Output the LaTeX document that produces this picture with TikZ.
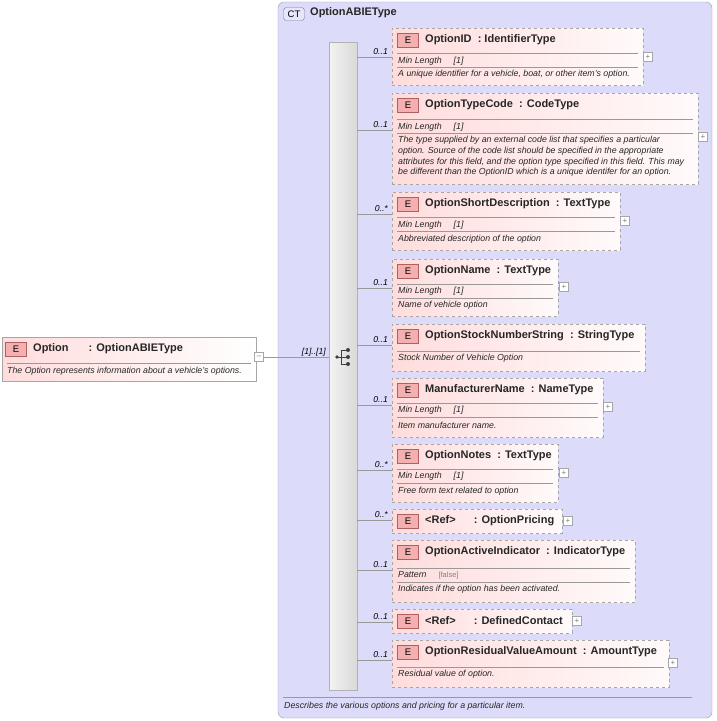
\documentclass[tikz,border=0pt]{standalone}
\usepackage{fontspec}
\setmainfont{Liberation Sans}
\usetikzlibrary{calc}
\definecolor{ctfill}{HTML}{DCDCFA}
\definecolor{ctline}{HTML}{9A9AB0}
\definecolor{epink}{HTML}{FFDCDC}
\definecolor{ebadge}{HTML}{F4B0B0}
\definecolor{ebord}{HTML}{B06060}
\begin{document}
\begin{tikzpicture}[x=1pt,y=-1pt,
  elbox/.style={draw=gray!70, dashed, left color=epink, right color=red!2, shading angle=90, inner sep=0, outer sep=0},
  ebadge/.style={draw=ebord, fill=ebadge, font=\fontsize{9.5}{9.5}\selectfont, minimum width=21pt, minimum height=14pt, inner sep=0},
  ttl/.style={font=\bfseries\fontsize{11}{11}\selectfont, inner sep=0, text=black!85},
  sm/.style={font=\itshape\fontsize{8.8}{10.8}\selectfont, inner sep=0, text=black!85},
  mult/.style={font=\itshape\fontsize{8.6}{9}\selectfont, inner sep=0, anchor=south east},
  sep/.style={draw=gray!80, line width=0.5pt},
  conn/.style={draw=gray!80, line width=0.6pt},
  plus/.style={draw=gray!70, fill=white, minimum size=9pt, inner sep=0, font=\fontsize{8}{8}\selectfont, text=gray}]
\useasboundingbox (0,0) rectangle (716,721);
\newcommand\ebox[7]{%
  \node[elbox, minimum width={(#4-#2)*1pt}, minimum height={(#5-#3)*1pt}, anchor=north west] (#1) at (#2,#3) {};
  \node[ebadge] (#1e) at (#2+16,#3+12) {E};
  \node[ttl, anchor=west] (#1t) at (#2+33,#3+11.5) {#6};
  \coordinate (#1c) at (#2,#7);
}
\newcommand\sepl[3]{\draw[sep] (#1+5,#3) -- (#2-5,#3);}
% CT container
\draw[ctline, fill=ctfill, rounded corners=6pt] (278,2) rectangle (712,718);
\node[draw=ctline!80!black, fill=ctfill!70!white, rounded corners=3pt, font=\fontsize{9.5}{9.5}\selectfont, minimum width=21pt, minimum height=13pt, inner sep=0] (ct) at (294,14) {CT};
\node[ttl, anchor=west] (ctt) at (310,13) {OptionABIEType};
\draw[sep] (283,697) -- (692,697);
\node[sm, anchor=west] (ctd) at (284,706) {Describes the various options and pricing for a particular item.};
% sequence bar
\node[draw=gray!60, left color=gray!10, right color=gray!30, shading angle=90, minimum width=28pt, minimum height=648pt, anchor=north west, inner sep=0] (seq) at (329,42) {};
% sequence icon
\fill[black!75] (337,357) circle (1.8);
\draw[black!75, line width=0.8pt] (337,357) -- (341,357) (341,350) -- (341,364) (341,350) -- (348,350) (341,357) -- (348,357) (341,364) -- (348,364);
\fill[black!75] (348,350) circle (2) (348,357) circle (2) (348,364) circle (2);
% Option element
\node[draw=gray!70, left color=epink, right color=white, shading angle=90, minimum width=254pt, minimum height=44pt, anchor=north west, inner sep=0] (opt) at (2,337) {};
\node[ebadge] (opte) at (16,349) {E};
\node[ttl, anchor=west] (optt) at (33,349) {Option\hspace{20pt}: OptionABIEType};
\sepl{2}{256}{363}
\node[sm, anchor=west] (optd) at (7,371) {The Option represents information about a vehicle's options.};
\node[plus] (optm) at (259,357) {--};
\draw[conn] (optm) -- (seq.west |- optm);
\node[mult] (m0) at (326,356) {[1]..[1]};
% children
\ebox{a}{392}{28}{643}{85}{OptionID\ \ : IdentifierType}{57}
\sepl{392}{643}{53}\sepl{392}{643}{67}
\node[sm, anchor=west] at (398,61) {Min Length\hspace{12pt}[1]};
\node[sm, anchor=west] at (398,74) {A unique identifier for a vehicle, boat, or other item's option.};
\node[plus] (ap) at (648,57) {+};
\ebox{b}{392}{93}{698}{184}{OptionTypeCode\ \ : CodeType}{130}
\sepl{392}{698}{119}\sepl{392}{698}{133}
\node[sm, anchor=west] at (398,127) {Min Length\hspace{12pt}[1]};
\node[sm, anchor=north west, align=left] at (398,136) {The type supplied by an external code list that specifies a particular\\option. Source of the code list should be specified in the appropriate\\attributes for this field, and the option type specified in this field. This may\\be different than the OptionID which is a unique identifer for an option.};
\node[plus] (bp) at (703,137) {+};
\ebox{c}{392}{192}{620}{250}{OptionShortDescription\ \ : TextType}{214}
\sepl{392}{620}{217}\sepl{392}{620}{231}
\node[sm, anchor=west] at (398,225) {Min Length\hspace{12pt}[1]};
\node[sm, anchor=west] at (398,239) {Abbreviated description of the option};
\node[plus] (cp) at (625,221) {+};
\ebox{d}{392}{259}{558}{316}{OptionName\ \ : TextType}{288}
\sepl{392}{558}{284}\sepl{392}{558}{298}
\node[sm, anchor=west] at (398,291) {Min Length\hspace{12pt}[1]};
\node[sm, anchor=west] at (398,305) {Name of vehicle option};
\node[plus] (dp) at (564,287) {+};
\ebox{e}{392}{324}{645}{371}{OptionStockNumberString\ \ : StringType}{345}
\sepl{392}{645}{351}
\node[sm, anchor=west] at (398,358) {Stock Number of Vehicle Option};
\ebox{f}{392}{378}{603}{437}{ManufacturerName\ \ : NameType}{405}
\sepl{392}{603}{403}\sepl{392}{603}{417}
\node[sm, anchor=west] at (398,410) {Min Length\hspace{12pt}[1]};
\node[sm, anchor=west] at (398,425) {Item manufacturer name.};
\node[plus] (fp) at (608,407) {+};
\ebox{g}{392}{444}{558}{502}{OptionNotes\ \ : TextType}{470}
\sepl{392}{558}{469}\sepl{392}{558}{483}
\node[sm, anchor=west] at (398,476) {Min Length\hspace{12pt}[1]};
\node[sm, anchor=west] at (398,491) {Free form text related to option};
\node[plus] (gp) at (564,473) {+};
\ebox{h}{392}{509}{562}{533}{<Ref>\hspace{18pt}: OptionPricing}{520}
\node[plus] (hp) at (568,521) {+};
\ebox{i}{392}{540}{635}{602}{OptionActiveIndicator\ \ : IndicatorType}{570}
\sepl{392}{635}{568}\sepl{392}{635}{582}
\node[sm, anchor=west] at (398,575) {Pattern\hspace{12pt}{\upshape\fontsize{7.5}{8}\selectfont\color{gray}[false]}};
\node[sm, anchor=west] at (398,589) {Indicates if the option has been activated.};
\ebox{j}{392}{609}{572}{633}{<Ref>\hspace{18pt}: DefinedContact}{622}
\node[plus] (jp) at (577,621) {+};
\ebox{k}{392}{640}{669}{687}{OptionResidualValueAmount\ \ : AmountType}{660}
\sepl{392}{669}{667}
\node[sm, anchor=west] at (398,674) {Residual value of option.};
\node[plus] (kp) at (673,663) {+};
% connectors and multiplicities
\foreach \n/\m in {a/0..1,b/0..1,c/0..*,d/0..1,e/0..1,f/0..1,g/0..*,h/0..*,i/0..1,j/0..1,k/0..1}{
  \draw[conn] (seq.east |- \n c) -- (\n c);
  \node[mult] at ($(\n c)+(-4,-2)$) {\m};
}
\end{tikzpicture}
\end{document}
